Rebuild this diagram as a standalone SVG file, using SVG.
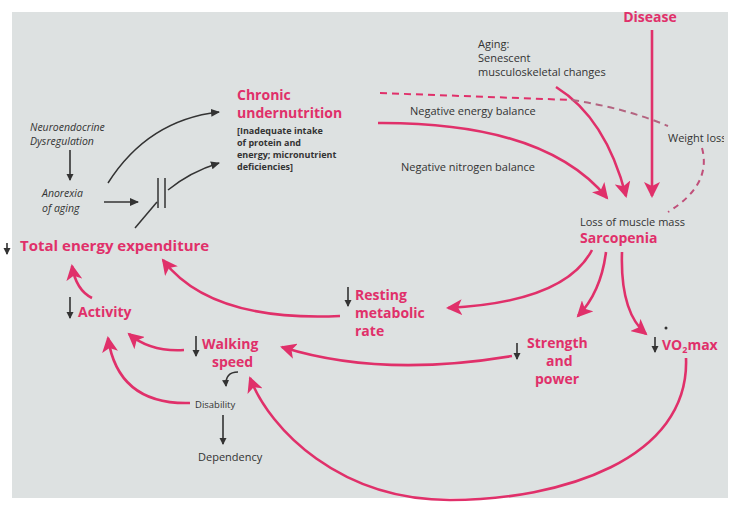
<svg xmlns="http://www.w3.org/2000/svg" width="735" height="506" viewBox="0 0 735 506">
<style>
.pk{fill:#e0306a;font-family:"Open Sans","Liberation Sans",sans-serif;font-weight:bold;font-size:14px}
.bk{fill:#333;font-family:"Open Sans","Liberation Sans",sans-serif;font-size:11px}
.sm{fill:#333;font-family:"Open Sans","Liberation Sans",sans-serif;font-size:9px;font-weight:bold}
.it{fill:#333;font-family:"Open Sans","Liberation Sans",sans-serif;font-size:10.5px;font-style:italic}
.pa{fill:none;stroke:#e0306a;stroke-width:2.6;marker-end:url(#ph)}
.ba{fill:none;stroke:#333;stroke-width:1.5;marker-end:url(#bh)}
.bl{fill:none;stroke:#333;stroke-width:1.5}
.dn{fill:none;stroke:#333;stroke-width:1.6;marker-end:url(#bh2)}
</style>
<defs>
<marker id="ph" markerUnits="userSpaceOnUse" markerWidth="18" markerHeight="16" refX="14" refY="8" orient="auto"><path d="M0,0 L16,8 L0,16 L4,8 Z" fill="#e0306a"/></marker>
<marker id="bh" markerUnits="userSpaceOnUse" markerWidth="10" markerHeight="10" refX="8" refY="5" orient="auto"><path d="M0,1 L9,5 L0,9 Z" fill="#333"/></marker>
<marker id="bh2" markerUnits="userSpaceOnUse" markerWidth="8" markerHeight="8" refX="6" refY="4" orient="auto"><path d="M0,0.5 L7,4 L0,7.5 Z" fill="#333"/></marker>
<clipPath id="clipR"><rect x="0" y="0" width="724" height="506"/></clipPath>
</defs>
<rect width="735" height="506" fill="#ffffff"/>
<rect x="12" y="12" width="716" height="486" fill="#dde1e1"/>

<g id="connectors">
<path class="pa" d="M652,30 V196"/>
<path class="pa" d="M556,87 Q606,118 626,196"/>
<path class="pa" d="M378,123 Q545,122 607,198"/>
<path d="M380,93 L572,100" fill="none" stroke="#e0306a" stroke-width="2" stroke-dasharray="7,5"/>
<path d="M572,100 Q625,108 668,126" fill="none" stroke="#b46480" stroke-width="2" stroke-dasharray="7,5"/>
<path d="M702,148 Q712,185 668,212" fill="none" stroke="#c0507a" stroke-width="2" stroke-dasharray="6,5"/>
<path class="pa" d="M592,250 Q565,302 448,308"/>
<path class="pa" d="M606,252 Q601,292 578,316"/>
<path class="pa" d="M622,252 Q620,312 646,334"/>
<path class="pa" d="M340,316 Q210,322 163,260"/>
<path class="pa" d="M512,356 Q380,378 282,347"/>
<path class="pa" d="M184,350 Q150,352 129,334"/>
<path class="pa" d="M92,298 Q76,290 72,266"/>
<path class="pa" d="M190,403 Q118,405 108,338"/>
<path class="pa" d="M686,358 C690,460 560,500 450,500 C340,500 270,430 250,378"/>
<path class="dn" d="M70,150 V180"/>
<path class="ba" d="M104,202 H138"/>
<path class="ba" d="M108,183 Q148,120 219,112"/>
<path class="bl" d="M135,228 L157,202"/>
<path class="bl" d="M158,178 V208 M165,178 V208"/>
<path class="ba" d="M168,190 Q190,172 219,163"/>
<path class="dn" d="M223,415 V444"/>
<path class="dn" d="M238,372 Q225,372 226,386"/>
<path class="dn" d="M7,243 V254" stroke="#999"/>
<path class="dn" d="M70,297 V318"/>
<path class="dn" d="M348,287 V306"/>
<path class="dn" d="M196,336 V356"/>
<path class="dn" d="M517,343 V359"/>
<path class="dn" d="M655,337 V352"/>
</g>

<g id="disease"><text class="pk" x="650" y="22" text-anchor="middle">Disease</text></g>
<g id="aging">
<text class="bk" x="478" y="48">Aging:</text>
<text class="bk" x="478" y="62">Senescent</text>
<text class="bk" x="478" y="76">musculoskeletal changes</text>
</g>
<g id="neg-energy"><text class="bk" x="410" y="115">Negative energy balance</text></g>
<g id="neg-nitrogen"><text class="bk" x="401" y="171">Negative nitrogen balance</text></g>
<g id="weight-loss" clip-path="url(#clipR)"><text class="bk" x="668" y="142">Weight loss</text></g>
<g id="sarcopenia">
<text class="bk" x="580" y="226">Loss of muscle mass</text>
<text class="pk" x="580" y="243">Sarcopenia</text>
</g>
<g id="chronic">
<text class="pk" x="237" y="100">Chronic</text>
<text class="pk" x="237" y="118">undernutrition</text>
<text class="sm" x="237" y="134">[Inadequate intake</text>
<text class="sm" x="237" y="146">of protein and</text>
<text class="sm" x="237" y="158">energy; micronutrient</text>
<text class="sm" x="237" y="170">deficiencies]</text>
</g>
<g id="neuro">
<text class="it" x="30" y="131">Neuroendocrine</text>
<text class="it" x="30" y="145">Dysregulation</text>
</g>
<g id="anorexia">
<text class="it" x="42" y="197">Anorexia</text>
<text class="it" x="42" y="212">of aging</text>
</g>
<g id="tee"><text class="pk" x="20" y="251" style="font-size:15px">Total energy expenditure</text></g>
<g id="activity"><text class="pk" x="78" y="317">Activity</text></g>
<g id="resting">
<text class="pk" x="355" y="300">Resting</text>
<text class="pk" x="355" y="318">metabolic</text>
<text class="pk" x="355" y="336">rate</text>
</g>
<g id="walking">
<text class="pk" x="202" y="349">Walking</text>
<text class="pk" x="212" y="367">speed</text>
</g>
<g id="strength">
<text class="pk" x="527" y="348">Strength</text>
<text class="pk" x="546" y="366">and</text>
<text class="pk" x="535" y="384">power</text>
</g>
<g id="vo2max">
<circle cx="666" cy="328" r="1.5" fill="#333"/>
<text class="pk" x="662" y="350">VO<tspan font-size="9" dy="3">2</tspan><tspan dy="-3">max</tspan></text>
</g>
<g id="disability"><text class="bk" x="195" y="408" style="font-size:9.5px">Disability</text></g>
<g id="dependency"><text class="bk" x="198" y="461">Dependency</text></g>
</svg>
